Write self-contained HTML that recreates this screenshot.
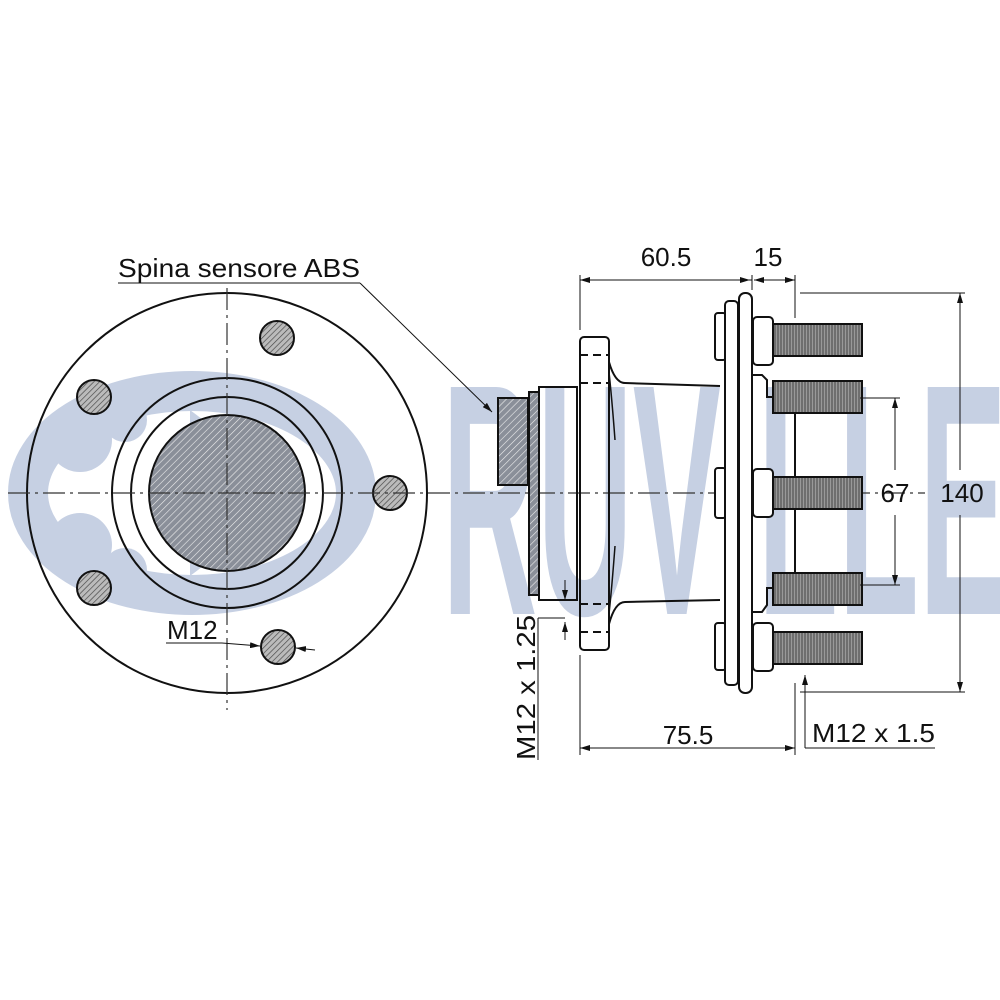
<!DOCTYPE html>
<html><head><meta charset="utf-8"><style>
html,body{margin:0;padding:0;background:#fff;}
svg{display:block;}
text{font-family:"Liberation Sans",sans-serif;fill:#111;}
</style></head><body>
<svg width="1000" height="1000" viewBox="0 0 1000 1000" xmlns="http://www.w3.org/2000/svg">
<defs>
<pattern id="h" width="5" height="5" patternUnits="userSpaceOnUse" patternTransform="rotate(45)">
<rect width="5" height="5" fill="#8a8f99"/><line x1="0" y1="0" x2="0" y2="5" stroke="#eee" stroke-width="1.2"/></pattern>
<pattern id="h2" width="4" height="4" patternUnits="userSpaceOnUse" patternTransform="rotate(45)">
<rect width="4" height="4" fill="#bbb"/><line x1="0" y1="0" x2="0" y2="4" stroke="#444" stroke-width="1.3"/></pattern>
<pattern id="th" width="3" height="6" patternUnits="userSpaceOnUse">
<rect width="3" height="6" fill="#999"/><line x1="1" y1="0" x2="1" y2="6" stroke="#444" stroke-width="1"/></pattern>
<marker id="a" markerWidth="10" markerHeight="6" refX="10" refY="3" orient="auto"><path d="M0,0 L10,3 L0,6z" fill="#111"/></marker>
</defs>
<g fill="#c6d0e3">
<ellipse cx="192" cy="493" rx="164" ry="102" fill="none" stroke="#c6d0e3" stroke-width="40"/>
<circle cx="80" cy="440" r="32"/><circle cx="80" cy="545" r="32"/>
<circle cx="125" cy="420" r="22"/><circle cx="125" cy="570" r="22"/>
<path d="M190,410 L300,493 L190,576 z"/>
<text x="442" y="614" font-size="330" font-weight="bold" textLength="565" lengthAdjust="spacingAndGlyphs" style="fill:#c6d0e3">RUVILLE</text>
</g>
<g stroke="#111" fill="none" stroke-width="2">
<circle cx="227" cy="493" r="200"/>
<circle cx="227" cy="493" r="115"/>
<circle cx="227" cy="493" r="96"/>
<circle cx="227" cy="493" r="78" fill="url(#h)"/>
<circle cx="277" cy="338" r="17" fill="url(#h2)"/>
<circle cx="94" cy="397" r="17" fill="url(#h2)"/>
<circle cx="390" cy="493" r="17" fill="url(#h2)"/>
<circle cx="94" cy="588" r="17" fill="url(#h2)"/>
<circle cx="278" cy="647" r="17" fill="url(#h2)"/>
</g>
<g stroke="#333" stroke-width="1.2" stroke-dasharray="22,5,3,5">
<line x1="8" y1="493" x2="925" y2="493"/>
<line x1="227" y1="288" x2="227" y2="710"/>
</g>
<g stroke="#111" stroke-width="1" fill="none">
<line x1="118" y1="283" x2="360" y2="283"/>
<line x1="360" y1="283" x2="492" y2="412" marker-end="url(#a)"/>
<line x1="166" y1="643" x2="222" y2="643"/>
<line x1="222" y1="643" x2="260" y2="646" marker-end="url(#a)"/>
<line x1="315" y1="650" x2="296" y2="648" marker-end="url(#a)"/>
</g>
<text x="118" y="277" font-size="26" textLength="242" lengthAdjust="spacingAndGlyphs">Spina sensore ABS</text>
<text x="167" y="639" font-size="26">M12</text>
<g stroke="#111" stroke-width="2" fill="#fff">
<rect x="498" y="398" width="30" height="87" fill="url(#h)"/>
<rect x="529" y="392" width="10" height="203" fill="url(#h)"/>
<rect x="539" y="387" width="38" height="213" fill="none"/>
<rect x="580" y="337" width="29" height="313" rx="4" fill="none"/>
<path d="M609,362 Q615,383 625,383 L720,386 M609,624 Q615,602 625,602 L720,600" fill="none"/>
<path d="M609,372 Q612,400 615,440 M609,614 Q612,586 615,546" fill="none" stroke-width="1.5"/>
<line x1="580" y1="355" x2="609" y2="355" stroke-dasharray="8,5"/>
<line x1="580" y1="383" x2="609" y2="383" stroke-dasharray="8,5"/>
<line x1="580" y1="604" x2="609" y2="604" stroke-dasharray="8,5"/>
<line x1="580" y1="632" x2="609" y2="632" stroke-dasharray="8,5"/>
<rect x="715" y="313" width="11" height="47" rx="3"/>
<rect x="715" y="468" width="11" height="50" rx="3"/>
<rect x="715" y="623" width="11" height="47" rx="3"/>
<rect x="725" y="301" width="13" height="384" rx="4"/>
<rect x="739" y="293" width="13" height="400" rx="6"/>
<path d="M752,375 L762,375 L767,380 L767,397 L795,397 L795,588 L767,588 L767,605 L762,612 L752,612" fill="none"/>
<g>
<rect x="753" y="317" width="20" height="48" rx="4"/><rect x="773" y="324" width="89" height="32" fill="url(#th)"/>
<rect x="773" y="381" width="89" height="32" fill="url(#th)"/>
<rect x="753" y="469" width="20" height="48" rx="4"/><rect x="773" y="477" width="89" height="32" fill="url(#th)"/>
<rect x="773" y="573" width="89" height="32" fill="url(#th)"/>
<rect x="753" y="623" width="20" height="48" rx="4"/><rect x="773" y="632" width="89" height="32" fill="url(#th)"/>
</g>
</g>
<g stroke="#111" stroke-width="1" fill="none">
<line x1="580" y1="275" x2="580" y2="330"/>
<line x1="795" y1="275" x2="795" y2="318"/>
<line x1="752" y1="275" x2="752" y2="290"/>
<line x1="580" y1="280" x2="752" y2="280"/>
<line x1="680" y1="280" x2="580" y2="280" marker-end="url(#a)"/>
<line x1="700" y1="280" x2="750" y2="280" marker-end="url(#a)"/>
<line x1="775" y1="280" x2="754" y2="280" marker-end="url(#a)"/>
<line x1="770" y1="280" x2="795" y2="280" marker-end="url(#a)"/>
<line x1="800" y1="293" x2="965" y2="293"/>
<line x1="800" y1="692" x2="965" y2="692"/>
<line x1="960" y1="400" x2="960" y2="293" marker-end="url(#a)"/>
<line x1="960" y1="580" x2="960" y2="692" marker-end="url(#a)"/>
<line x1="960" y1="400" x2="960" y2="470"/><line x1="960" y1="515" x2="960" y2="580"/>
<line x1="860" y1="398" x2="900" y2="398"/>
<line x1="860" y1="585" x2="900" y2="585"/>
<line x1="895" y1="470" x2="895" y2="398" marker-end="url(#a)"/>
<line x1="895" y1="515" x2="895" y2="585" marker-end="url(#a)"/>
<line x1="580" y1="655" x2="580" y2="755"/>
<line x1="795" y1="683" x2="795" y2="755"/>
<line x1="690" y1="748" x2="580" y2="748" marker-end="url(#a)"/>
<line x1="690" y1="748" x2="795" y2="748" marker-end="url(#a)"/>
<line x1="805" y1="748" x2="805" y2="675" marker-end="url(#a)"/>
<line x1="805" y1="748" x2="935" y2="748"/>
<line x1="538" y1="618" x2="565" y2="618"/>
<line x1="538" y1="618" x2="538" y2="760"/>
<line x1="565" y1="580" x2="565" y2="600" marker-end="url(#a)"/>
<line x1="565" y1="640" x2="565" y2="622" marker-end="url(#a)"/>
</g>
<text x="666" y="266" font-size="26" text-anchor="middle">60.5</text>
<text x="768" y="266" font-size="26" text-anchor="middle">15</text>
<text x="895" y="502" font-size="26" text-anchor="middle">67</text>
<text x="962" y="502" font-size="26" text-anchor="middle">140</text>
<text x="688" y="744" font-size="26" text-anchor="middle">75.5</text>
<text x="812" y="742" font-size="26" textLength="123" lengthAdjust="spacingAndGlyphs">M12 x 1.5</text>
<text transform="translate(535,760) rotate(-90)" font-size="26" textLength="145" lengthAdjust="spacingAndGlyphs">M12 x 1.25</text>
</svg>
</body></html>
